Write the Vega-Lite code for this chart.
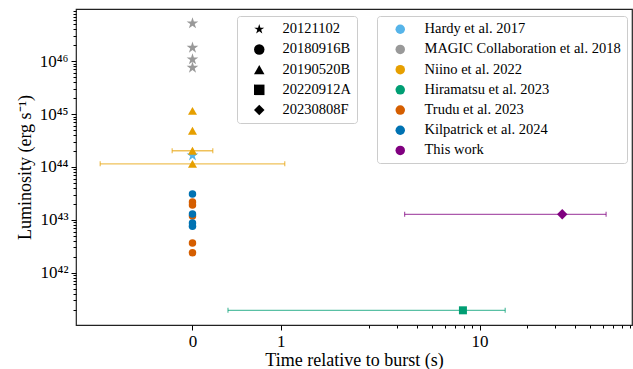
{
  "$schema": "https://vega.github.io/schema/vega-lite/v6.json",
  "width": 556,
  "height": 316,
  "autosize": {"type": "none"},
  "padding": {"left": 76, "top": 9, "right": 1, "bottom": 44},
  "background": "white",
  "config": {
    "view": {"stroke": "#222222", "strokeWidth": 1.2},
    "font": "Liberation Serif, Times New Roman, serif"
  },
  "datasets": {
    "obs": [
      {"frb": "20121102", "ref": "MAGIC Collaboration et al. 2018", "t": 0, "lum": 5.24e46},
      {"frb": "20121102", "ref": "MAGIC Collaboration et al. 2018", "t": 0, "lum": 1.81e46},
      {"frb": "20121102", "ref": "MAGIC Collaboration et al. 2018", "t": 0, "lum": 1.09e46},
      {"frb": "20121102", "ref": "MAGIC Collaboration et al. 2018", "t": 0, "lum": 7.57e45},
      {"frb": "20121102", "ref": "Hardy et al. 2017", "t": 0, "lum": 1.65e44},
      {"frb": "20190520B", "ref": "Niino et al. 2022", "t": 0, "lum": 1.15e45},
      {"frb": "20190520B", "ref": "Niino et al. 2022", "t": 0, "lum": 4.85e44},
      {"frb": "20190520B", "ref": "Niino et al. 2022", "t": 0, "lum": 2.03e44, "tlo": -0.23, "thi": 0.23},
      {"frb": "20190520B", "ref": "Niino et al. 2022", "t": 0, "lum": 1.15e44, "tlo": -1.045, "thi": 1.045},
      {"frb": "20180916B", "ref": "Trudu et al. 2023", "t": 0, "lum": 2.17e43},
      {"frb": "20180916B", "ref": "Trudu et al. 2023", "t": 0, "lum": 1.91e43},
      {"frb": "20180916B", "ref": "Trudu et al. 2023", "t": 0, "lum": 1.18e43},
      {"frb": "20180916B", "ref": "Trudu et al. 2023", "t": 0, "lum": 3.64e42},
      {"frb": "20180916B", "ref": "Trudu et al. 2023", "t": 0, "lum": 2.38e42},
      {"frb": "20180916B", "ref": "Kilpatrick et al. 2024", "t": 0, "lum": 3.08e43},
      {"frb": "20180916B", "ref": "Kilpatrick et al. 2024", "t": 0, "lum": 1.29e43},
      {"frb": "20180916B", "ref": "Kilpatrick et al. 2024", "t": 0, "lum": 8.7e42},
      {"frb": "20180916B", "ref": "Kilpatrick et al. 2024", "t": 0, "lum": 7.6e42},
      {"frb": "20220912A", "ref": "Hiramatsu et al. 2023", "t": 7.86, "lum": 1.94e41, "tlo": 0.402, "thi": 15.4},
      {"frb": "20230808F", "ref": "This work", "t": 33.7, "lum": 1.27e43, "tlo": 3.39, "thi": 63.4}
    ]
  },
  "data": {"name": "obs"},
  "layer": [
    {
      "transform": [{"filter": "isValid(datum.tlo)"}],
      "mark": {"type": "rule", "strokeWidth": 1.3, "opacity": 0.65},
      "encoding": {
        "x": {
          "field": "tlo", "type": "quantitative",
          "scale": {"type": "linear", "domain": [-1.319, 2, 3, 4, 5, 6, 7, 8, 9, 10, 20, 30, 40, 50, 60, 70, 80, 90, 92.2], "range": [0, 293.1, 320.9, 340.7, 356.0, 368.5, 379.1, 388.2, 396.3, 403.5, 451.1, 478.9, 498.7, 514.0, 526.5, 537.1, 546.2, 554.3, 556], "nice": false, "zero": false},
          "axis": {
            "title": "Time relative to burst (s)",
            "values": [0, 1, 2, 3, 4, 5, 6, 7, 8, 9, 10, 20, 30, 40, 50, 60, 70, 80, 90],
            "labelExpr": "datum.value == 0 ? '0' : datum.value == 1 ? '1' : datum.value == 10 ? '10' : ''",
            "tickSize": {"condition": {"test": "datum.value == 0 || datum.value == 1 || datum.value == 10", "value": 5}, "value": 3},
            "tickColor": "black", "tickWidth": 1, "domain": false, "grid": false,
            "labelFont": "Liberation Serif, Times New Roman, serif", "labelFontSize": 17, "labelColor": "black", "labelPadding": 3, "labelOverlap": false, "labelFlush": false,
            "titleFont": "Liberation Serif, Times New Roman, serif", "titleFontSize": 18, "titleFontWeight": "normal", "titleColor": "black", "titlePadding": 2
          }
        },
        "x2": {"field": "thi"},
        "y": {
          "field": "lum", "type": "quantitative",
          "scale": {"type": "log", "domain": [1.023e41, 9.77e46], "nice": false},
          "axis": {
            "title": "Luminosity (erg s⁻¹)",
            "values": [2e41, 3e41, 4e41, 5e41, 6e41, 7e41, 8e41, 9e41, 1e42, 2e42, 3e42, 4e42, 5e42, 6e42, 7e42, 8e42, 9e42, 1e43, 2e43, 3e43, 4e43, 5e43, 6e43, 7e43, 8e43, 9e43, 1e44, 2e44, 3e44, 4e44, 5e44, 6e44, 7e44, 8e44, 9e44, 1e45, 2e45, 3e45, 4e45, 5e45, 6e45, 7e45, 8e45, 9e45, 1e46, 2e46, 3e46, 4e46, 5e46, 6e46, 7e46, 8e46, 9e46],
            "labelExpr": "datum.value == 1e42 ? '10⁴²' : datum.value == 1e43 ? '10⁴³' : datum.value == 1e44 ? '10⁴⁴' : datum.value == 1e45 ? '10⁴⁵' : datum.value == 1e46 ? '10⁴⁶' : ''",
            "tickSize": {"condition": {"test": "indexof([1e42, 1e43, 1e44, 1e45, 1e46], datum.value) >= 0", "value": 5}, "value": 3},
            "tickColor": "black", "tickWidth": 1, "domain": false, "grid": false,
            "labelFont": "Liberation Serif, Times New Roman, serif", "labelFontSize": 17, "labelColor": "black", "labelPadding": 3, "labelOverlap": false, "labelFlush": false,
            "titleFont": "Liberation Serif, Times New Roman, serif", "titleFontSize": 18, "titleFontWeight": "normal", "titleColor": "black", "titlePadding": 5
          }
        },
        "stroke": {
          "field": "ref", "type": "nominal",
          "scale": {"domain": ["This work", "Kilpatrick et al. 2024", "Trudu et al. 2023", "Hiramatsu et al. 2023", "Niino et al. 2022", "MAGIC Collaboration et al. 2018", "Hardy et al. 2017"], "range": ["#800080", "#0072B2", "#D55E00", "#009E73", "#E69F00", "#999999", "#56B4E9"]},
          "legend": null
        }
      }
    },
    {
      "transform": [{"filter": "isValid(datum.tlo)"}, {"fold": ["tlo", "thi"], "as": ["end", "tcap"]}],
      "mark": {"type": "point", "shape": "M0,-1L0,1", "size": 25, "filled": false, "strokeWidth": 1.2, "opacity": 0.65},
      "encoding": {
        "x": {
          "field": "tcap", "type": "quantitative",
          "scale": {"type": "linear", "domain": [-1.319, 2, 3, 4, 5, 6, 7, 8, 9, 10, 20, 30, 40, 50, 60, 70, 80, 90, 92.2], "range": [0, 293.1, 320.9, 340.7, 356.0, 368.5, 379.1, 388.2, 396.3, 403.5, 451.1, 478.9, 498.7, 514.0, 526.5, 537.1, 546.2, 554.3, 556], "nice": false, "zero": false},
          "axis": {
            "title": "Time relative to burst (s)",
            "values": [0, 1, 2, 3, 4, 5, 6, 7, 8, 9, 10, 20, 30, 40, 50, 60, 70, 80, 90],
            "labelExpr": "datum.value == 0 ? '0' : datum.value == 1 ? '1' : datum.value == 10 ? '10' : ''",
            "tickSize": {"condition": {"test": "datum.value == 0 || datum.value == 1 || datum.value == 10", "value": 5}, "value": 3},
            "tickColor": "black", "tickWidth": 1, "domain": false, "grid": false,
            "labelFont": "Liberation Serif, Times New Roman, serif", "labelFontSize": 17, "labelColor": "black", "labelPadding": 3, "labelOverlap": false, "labelFlush": false,
            "titleFont": "Liberation Serif, Times New Roman, serif", "titleFontSize": 18, "titleFontWeight": "normal", "titleColor": "black", "titlePadding": 2
          }
        },
        "y": {
          "field": "lum", "type": "quantitative",
          "scale": {"type": "log", "domain": [1.023e41, 9.77e46], "nice": false},
          "axis": {
            "title": "Luminosity (erg s⁻¹)",
            "values": [2e41, 3e41, 4e41, 5e41, 6e41, 7e41, 8e41, 9e41, 1e42, 2e42, 3e42, 4e42, 5e42, 6e42, 7e42, 8e42, 9e42, 1e43, 2e43, 3e43, 4e43, 5e43, 6e43, 7e43, 8e43, 9e43, 1e44, 2e44, 3e44, 4e44, 5e44, 6e44, 7e44, 8e44, 9e44, 1e45, 2e45, 3e45, 4e45, 5e45, 6e45, 7e45, 8e45, 9e45, 1e46, 2e46, 3e46, 4e46, 5e46, 6e46, 7e46, 8e46, 9e46],
            "labelExpr": "datum.value == 1e42 ? '10⁴²' : datum.value == 1e43 ? '10⁴³' : datum.value == 1e44 ? '10⁴⁴' : datum.value == 1e45 ? '10⁴⁵' : datum.value == 1e46 ? '10⁴⁶' : ''",
            "tickSize": {"condition": {"test": "indexof([1e42, 1e43, 1e44, 1e45, 1e46], datum.value) >= 0", "value": 5}, "value": 3},
            "tickColor": "black", "tickWidth": 1, "domain": false, "grid": false,
            "labelFont": "Liberation Serif, Times New Roman, serif", "labelFontSize": 17, "labelColor": "black", "labelPadding": 3, "labelOverlap": false, "labelFlush": false,
            "titleFont": "Liberation Serif, Times New Roman, serif", "titleFontSize": 18, "titleFontWeight": "normal", "titleColor": "black", "titlePadding": 5
          }
        },
        "stroke": {
          "field": "ref", "type": "nominal",
          "scale": {"domain": ["This work", "Kilpatrick et al. 2024", "Trudu et al. 2023", "Hiramatsu et al. 2023", "Niino et al. 2022", "MAGIC Collaboration et al. 2018", "Hardy et al. 2017"], "range": ["#800080", "#0072B2", "#D55E00", "#009E73", "#E69F00", "#999999", "#56B4E9"]},
          "legend": null
        }
      }
    },
    {
      "mark": {"type": "point", "filled": true, "opacity": 1, "strokeWidth": 0},
      "encoding": {
        "x": {
          "field": "t", "type": "quantitative",
          "scale": {"type": "linear", "domain": [-1.319, 2, 3, 4, 5, 6, 7, 8, 9, 10, 20, 30, 40, 50, 60, 70, 80, 90, 92.2], "range": [0, 293.1, 320.9, 340.7, 356.0, 368.5, 379.1, 388.2, 396.3, 403.5, 451.1, 478.9, 498.7, 514.0, 526.5, 537.1, 546.2, 554.3, 556], "nice": false, "zero": false},
          "axis": {
            "title": "Time relative to burst (s)",
            "values": [0, 1, 2, 3, 4, 5, 6, 7, 8, 9, 10, 20, 30, 40, 50, 60, 70, 80, 90],
            "labelExpr": "datum.value == 0 ? '0' : datum.value == 1 ? '1' : datum.value == 10 ? '10' : ''",
            "tickSize": {"condition": {"test": "datum.value == 0 || datum.value == 1 || datum.value == 10", "value": 5}, "value": 3},
            "tickColor": "black", "tickWidth": 1, "domain": false, "grid": false,
            "labelFont": "Liberation Serif, Times New Roman, serif", "labelFontSize": 17, "labelColor": "black", "labelPadding": 3, "labelOverlap": false, "labelFlush": false,
            "titleFont": "Liberation Serif, Times New Roman, serif", "titleFontSize": 18, "titleFontWeight": "normal", "titleColor": "black", "titlePadding": 2
          }
        },
        "y": {
          "field": "lum", "type": "quantitative",
          "scale": {"type": "log", "domain": [1.023e41, 9.77e46], "nice": false},
          "axis": {
            "title": "Luminosity (erg s⁻¹)",
            "values": [2e41, 3e41, 4e41, 5e41, 6e41, 7e41, 8e41, 9e41, 1e42, 2e42, 3e42, 4e42, 5e42, 6e42, 7e42, 8e42, 9e42, 1e43, 2e43, 3e43, 4e43, 5e43, 6e43, 7e43, 8e43, 9e43, 1e44, 2e44, 3e44, 4e44, 5e44, 6e44, 7e44, 8e44, 9e44, 1e45, 2e45, 3e45, 4e45, 5e45, 6e45, 7e45, 8e45, 9e45, 1e46, 2e46, 3e46, 4e46, 5e46, 6e46, 7e46, 8e46, 9e46],
            "labelExpr": "datum.value == 1e42 ? '10⁴²' : datum.value == 1e43 ? '10⁴³' : datum.value == 1e44 ? '10⁴⁴' : datum.value == 1e45 ? '10⁴⁵' : datum.value == 1e46 ? '10⁴⁶' : ''",
            "tickSize": {"condition": {"test": "indexof([1e42, 1e43, 1e44, 1e45, 1e46], datum.value) >= 0", "value": 5}, "value": 3},
            "tickColor": "black", "tickWidth": 1, "domain": false, "grid": false,
            "labelFont": "Liberation Serif, Times New Roman, serif", "labelFontSize": 17, "labelColor": "black", "labelPadding": 3, "labelOverlap": false, "labelFlush": false,
            "titleFont": "Liberation Serif, Times New Roman, serif", "titleFontSize": 18, "titleFontWeight": "normal", "titleColor": "black", "titlePadding": 5
          }
        },
        "color": {
          "field": "ref", "type": "nominal",
          "scale": {"domain": ["Hardy et al. 2017", "MAGIC Collaboration et al. 2018", "Niino et al. 2022", "Hiramatsu et al. 2023", "Trudu et al. 2023", "Kilpatrick et al. 2024", "This work"], "range": ["#56B4E9", "#999999", "#E69F00", "#009E73", "#D55E00", "#0072B2", "#800080"]},
          "legend": {
            "title": null, "orient": "none", "legendX": 301, "legendY": 7, "direction": "vertical",
            "padding": 6, "strokeColor": "#cccccc", "fillColor": "rgba(255,255,255,0.85)", "cornerRadius": 3,
            "labelFont": "Liberation Serif, Times New Roman, serif", "labelFontSize": 14.5, "labelColor": "black", "labelLimit": 400,
            "symbolType": "circle", "symbolSize": 90, "symbolOffset": 10, "labelOffset": 17, "rowPadding": 5.2, "symbolStrokeWidth": 0, "symbolOpacity": 1
          }
        },
        "shape": {
          "field": "frb", "type": "nominal",
          "scale": {"domain": ["20121102", "20180916B", "20190520B", "20220912A", "20230808F"], "range": ["M0,-1L0.2245,-0.309L0.951,-0.309L0.363,0.118L0.588,0.809L0,0.382L-0.588,0.809L-0.363,0.118L-0.951,-0.309L-0.2245,-0.309Z", "circle", "triangle-up", "square", "diamond"]},
          "legend": {
            "title": null, "orient": "none", "legendX": 161, "legendY": 7, "direction": "vertical",
            "padding": 6, "strokeColor": "#cccccc", "fillColor": "rgba(255,255,255,0.85)", "cornerRadius": 3,
            "labelFont": "Liberation Serif, Times New Roman, serif", "labelFontSize": 14.5, "labelColor": "black",
            "symbolSize": 110, "symbolOffset": 9, "labelOffset": 16, "rowPadding": 5.2, "symbolStrokeWidth": 0,
            "symbolFillColor": "black", "symbolStrokeColor": "black", "symbolOpacity": 1
          }
        },
        "size": {
          "field": "frb", "type": "nominal",
          "scale": {"type": "ordinal", "domain": ["20230808F", "20220912A", "20190520B", "20180916B", "20121102"], "range": [110, 64, 81, 56, 150]},
          "legend": null
        }
      }
    }
  ]
}
